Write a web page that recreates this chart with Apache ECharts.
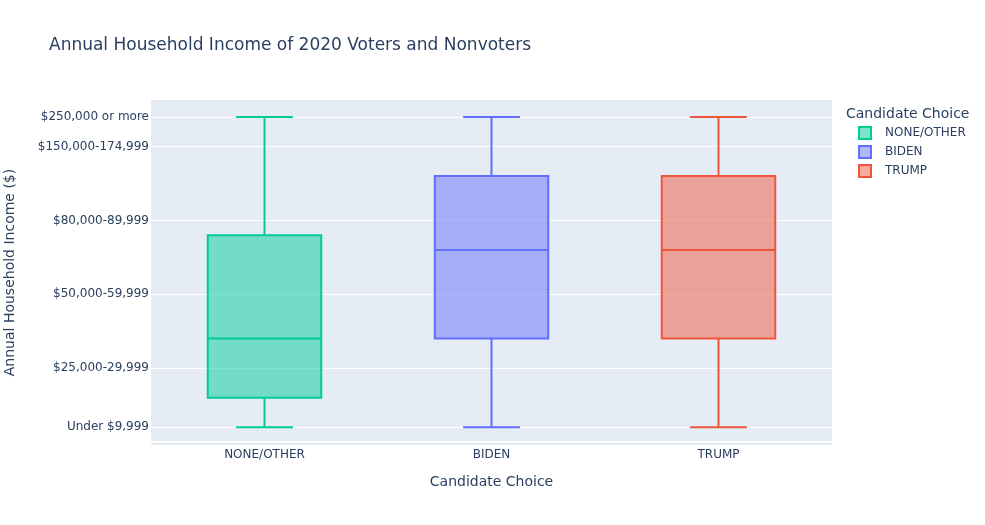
<!DOCTYPE html>
<html>
<head>
<meta charset="utf-8">
<script src="https://cdn.jsdelivr.net/npm/echarts@6/dist/echarts.min.js"></script>
<style>
  html, body { margin: 0; padding: 0; background: #fff; }
  #chart { width: 985px; height: 525px; }
</style>
</head>
<body>
<div id="chart"></div>
<script>
// Income brackets (y axis is the bracket's position in this list)
const incomeLevels = [
  "Under $9,999", "$10,000-14,999", "$15,000-19,999", "$20,000-24,999",
  "$25,000-29,999", "$30,000-34,999", "$35,000-39,999", "$40,000-44,999",
  "$45,000-49,999", "$50,000-59,999", "$60,000-64,999", "$65,000-69,999",
  "$70,000-74,999", "$75,000-79,999", "$80,000-89,999", "$90,000-99,999",
  "$100,000-109,999", "$110,000-124,999", "$125,000-149,999",
  "$150,000-174,999", "$175,000-249,999", "$250,000 or more"
]
const tickIndexes = [0, 4, 9, 14, 19, 21]

const categories = ["NONE/OTHER", "BIDEN", "TRUMP"]
const colors = ["#00cc96", "#636efa", "#EF553B"]

// [min, q1, median, q3, max] as bracket index
const noneOther = [0, 2, 6, 13, 21]
const biden = [0, 6, 12, 17, 21]
const trump = [0, 6, 12, 17, 21]
const boxes = [noneOther, biden, trump]

const FONT = '"DejaVu Sans", verdana, arial, sans-serif'
const TEXT = "#2a3f5f"

function withAlpha(hex, alpha) {
  const num = parseInt(hex.slice(1), 16)
  return `rgba(${(num >> 16) & 0xff}, ${(num >> 8) & 0xff}, ${num & 0xff}, ${alpha})`
}

function renderBox(color) {
  return function (params, api) {
    const x = api.value(0)
    const pMin = api.coord([x, api.value(1)])
    const pQ1 = api.coord([x, api.value(2)])
    const pMed = api.coord([x, api.value(3)])
    const pQ3 = api.coord([x, api.value(4)])
    const pMax = api.coord([x, api.value(5)])
    const bw = api.size([1, 0])[0] * 0.5
    const cx = pMed[0]
    const line = { stroke: color, lineWidth: 2 }
    return {
      type: "group",
      children: [
        { type: "rect", shape: { x: cx - bw / 2, y: pQ3[1], width: bw, height: pQ1[1] - pQ3[1] },
          style: { fill: withAlpha(color, 0.5), stroke: color, lineWidth: 2 } },
        { type: "line", shape: { x1: cx - bw / 2, y1: pMed[1], x2: cx + bw / 2, y2: pMed[1] }, style: line },
        { type: "line", shape: { x1: cx, y1: pQ1[1], x2: cx, y2: pMin[1] }, style: line },
        { type: "line", shape: { x1: cx, y1: pQ3[1], x2: cx, y2: pMax[1] }, style: line },
        { type: "line", shape: { x1: cx - bw / 4, y1: pMin[1], x2: cx + bw / 4, y2: pMin[1] }, style: line },
        { type: "line", shape: { x1: cx - bw / 4, y1: pMax[1], x2: cx + bw / 4, y2: pMax[1] }, style: line }
      ]
    }
  }
}

const series = categories.map((name, i) => ({
  name,
  type: "custom",
  renderItem: renderBox(colors[i]),
  itemStyle: { color: withAlpha(colors[i], 0.5), borderColor: colors[i], borderWidth: 2 },
  encode: { x: 0, y: [1, 2, 3, 4, 5] },
  data: [[i].concat(boxes[i])],
  z: 3
}))

// zero line just below the lowest bracket
series.push({
  type: "line",
  data: [],
  silent: true,
  markLine: {
    silent: true, symbol: "none", label: { show: false },
    lineStyle: { color: "#fff", width: 2, type: "solid" },
    data: [{ yAxis: -1 }]
  },
  z: 1
})

const chart = echarts.init(document.getElementById("chart"), null, { renderer: "canvas" })
chart.setOption({
  animation: false,
  backgroundColor: "#fff",
  textStyle: { fontFamily: FONT },
  title: [
    { text: "Annual Household Income of 2020 Voters and Nonvoters", left: 44, top: 32,
      textStyle: { fontFamily: FONT, fontSize: 17, fontWeight: "normal", color: TEXT } },
    { text: "Candidate Choice", left: 841, top: 102,
      textStyle: { fontFamily: FONT, fontSize: 14, fontWeight: "normal", color: TEXT } }
  ],
  legend: {
    orient: "vertical", left: 853, top: 121,
    itemWidth: 12, itemHeight: 12, itemGap: 5, icon: "rect",
    data: categories,
    textStyle: { fontFamily: FONT, fontSize: 12, color: TEXT, padding: [0, 0, 0, 9] }
  },
  grid: {
    left: 151, right: 153, top: 100, bottom: 80,
    outerBoundsMode: "none",
    show: true, backgroundColor: "#E5ECF6", borderWidth: 0
  },
  xAxis: {
    type: "category", data: categories,
    name: "Candidate Choice", nameLocation: "middle", nameGap: 30,
    nameTextStyle: { fontFamily: FONT, fontSize: 14, color: TEXT },
    axisLine: { show: false }, axisTick: { show: false },
    axisLabel: { fontFamily: FONT, fontSize: 12, color: TEXT, margin: 4 },
    splitLine: { show: false }
  },
  yAxis: {
    type: "value", min: -1.2, max: 22.15,
    name: "Annual Household Income ($)", nameLocation: "middle", nameGap: 134,
    nameTextStyle: { fontFamily: FONT, fontSize: 14, color: TEXT },
    axisLine: { show: false },
    axisTick: { show: false, customValues: tickIndexes },
    axisLabel: {
      customValues: tickIndexes, fontFamily: FONT, fontSize: 12, color: TEXT, margin: 2,
      padding: [4, 0, 0, 0],
      formatter: (v) => incomeLevels[Math.round(v)] || ""
    },
    splitLine: { show: true, lineStyle: { color: "#fff", width: 1 } }
  },
  series
})
</script>
</body>
</html>
